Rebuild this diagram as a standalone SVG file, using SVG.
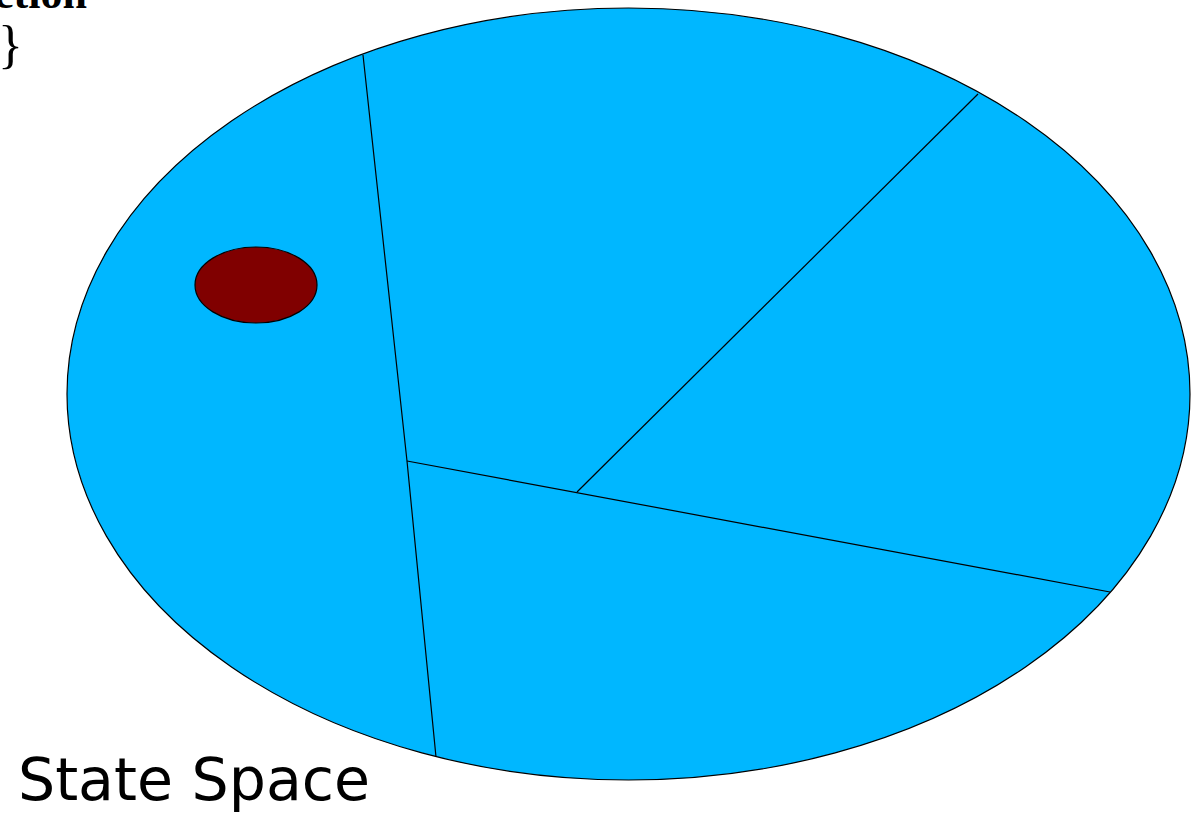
<svg xmlns="http://www.w3.org/2000/svg" width="1197" height="814" viewBox="0 0 1197 814">
<style>
.region{fill:#00B7FF;stroke:#000;stroke-width:1.2}
.div{stroke:#000;stroke-width:1.2;fill:none}
.dot{fill:#800000;stroke:#000;stroke-width:1.2}
.lbl{font-family:"DejaVu Sans","Liberation Sans",sans-serif;fill:#000}
.code{font-family:"Liberation Serif",serif;fill:#000}
</style>
<rect width="1197" height="814" fill="#fff"/>
<g id="code-fragment">
<text class="code" x="-6" y="8" font-size="44" font-weight="bold">ction</text>
<text class="code" x="-2" y="62" font-size="52">}</text>
</g>
<g id="state-space">
<ellipse class="region" cx="628.5" cy="394" rx="561.5" ry="386"/>
</g>
<g id="connectors">
<polyline class="div" points="363,55 407,461 436,757"/>
<line class="div" x1="407" y1="461" x2="1110" y2="592"/>
<line class="div" x1="978" y1="94" x2="577" y2="492"/>
</g>
<g id="state">
<ellipse class="dot" cx="256" cy="285" rx="61" ry="38"/>
</g>
<g id="label">
<text class="lbl" x="18" y="800" font-size="58" textLength="352" lengthAdjust="spacingAndGlyphs">State Space</text>
</g>
</svg>
